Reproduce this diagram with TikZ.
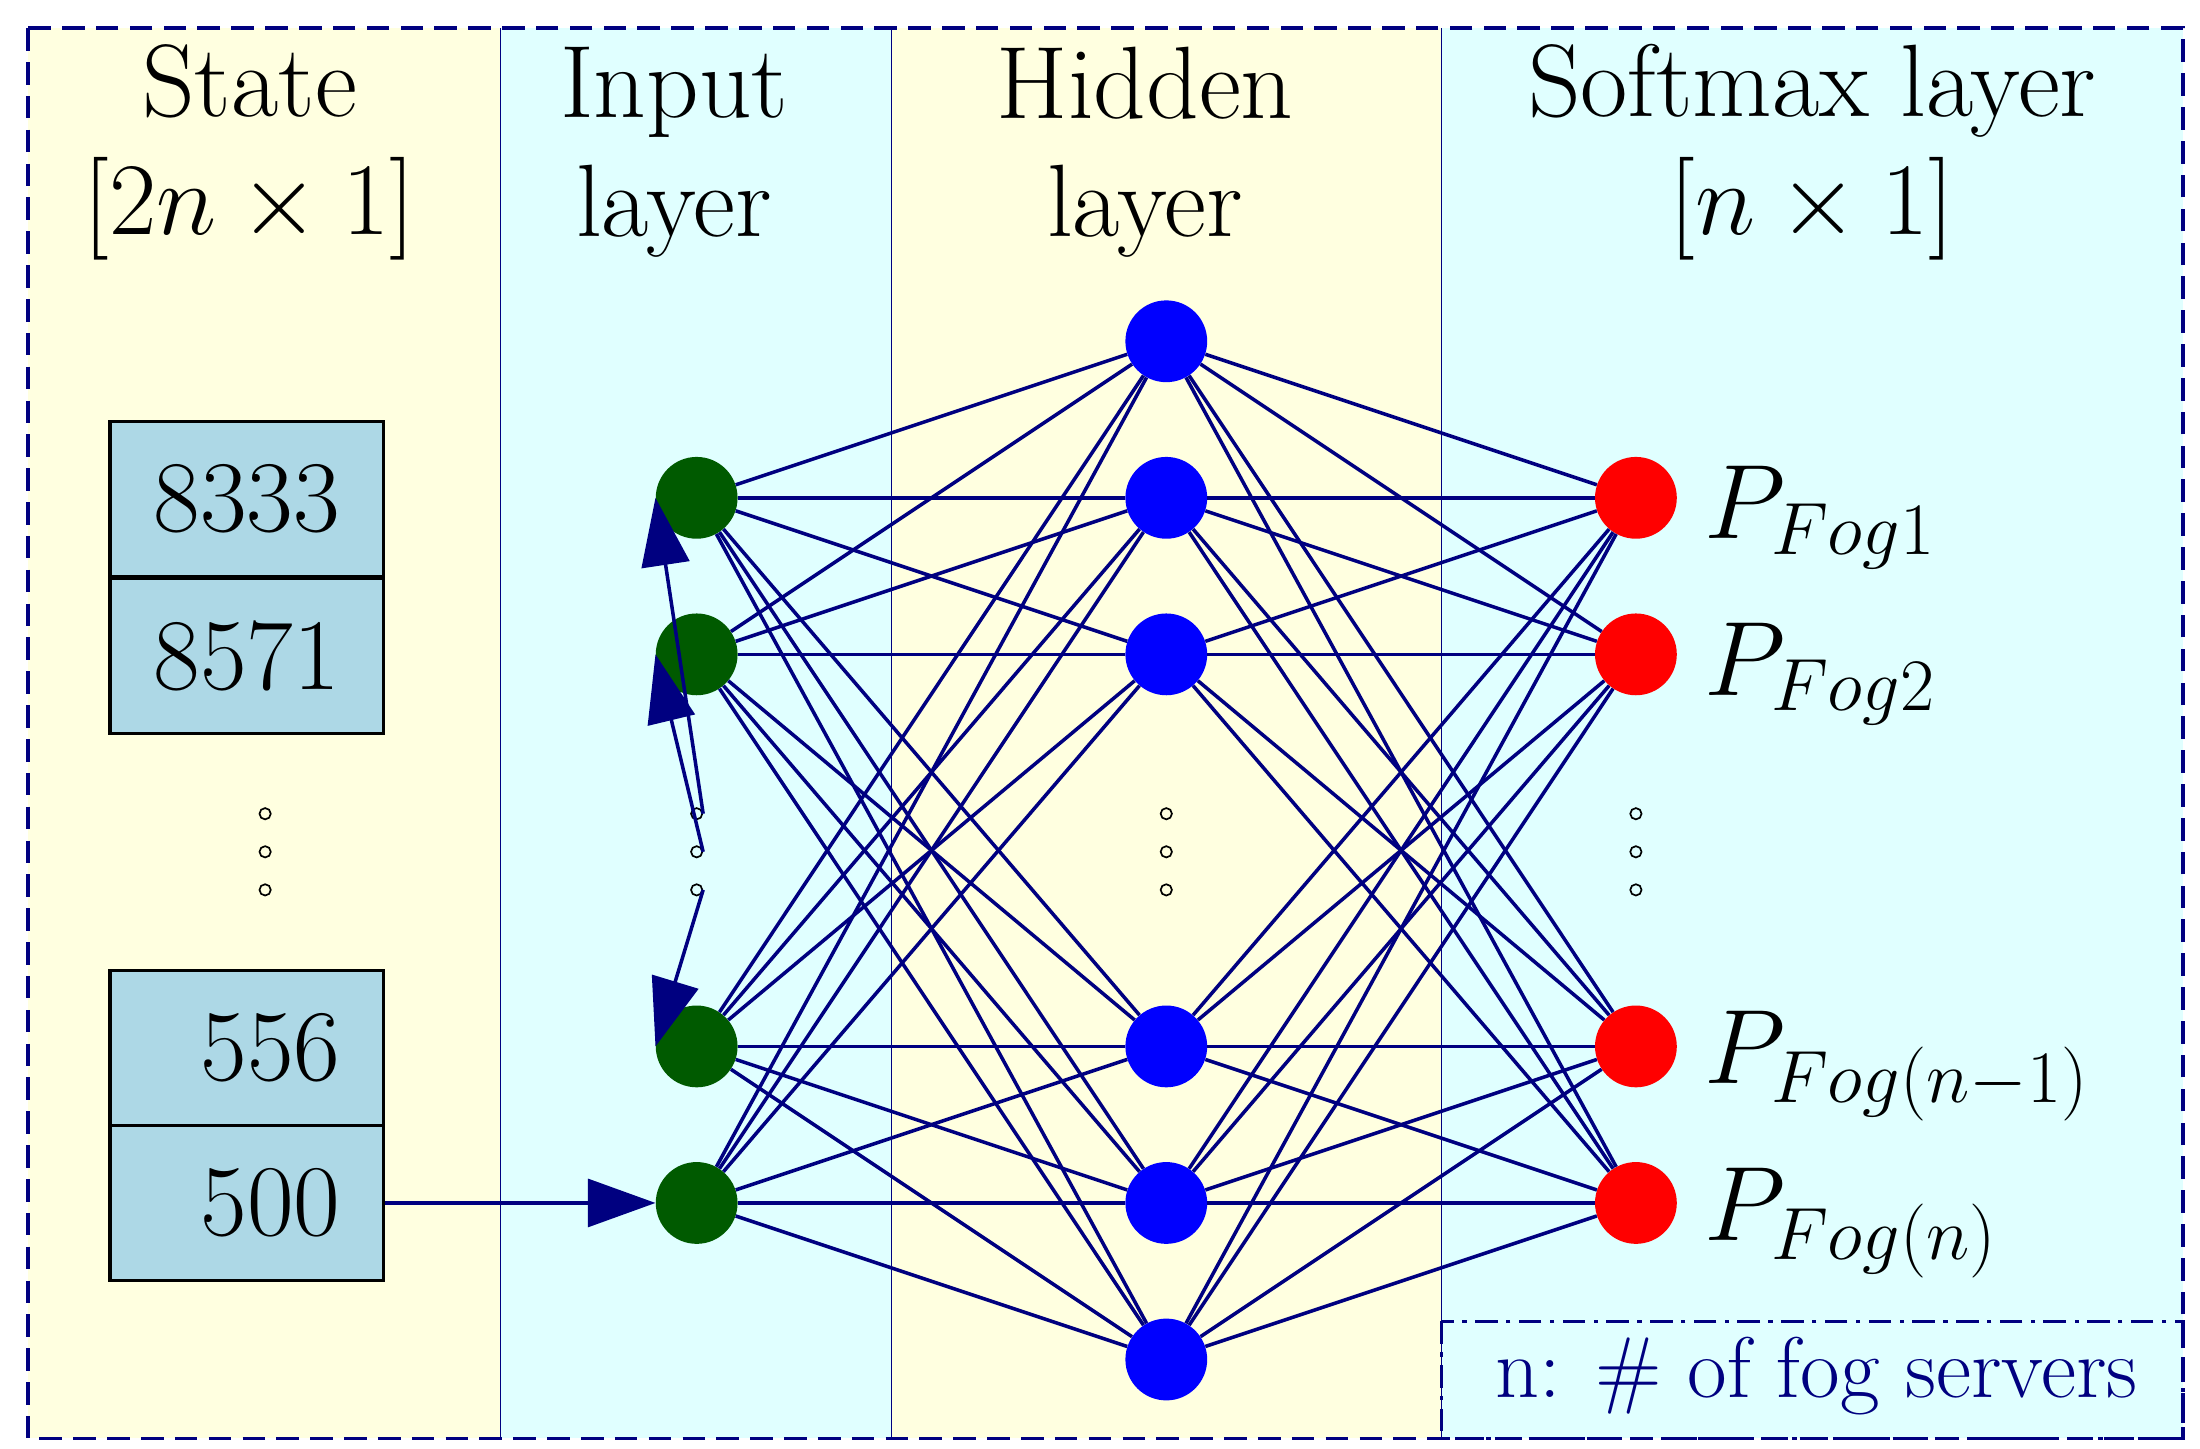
\RequirePackage{fix-cm}
\documentclass[tikz,border=0pt]{standalone}
\usetikzlibrary{arrows.meta}
\definecolor{ly}{RGB}{255,255,224}
\definecolor{lc}{RGB}{224,255,255}
\definecolor{lb}{RGB}{173,216,230}
\definecolor{nv}{RGB}{0,0,128}
\definecolor{dg}{RGB}{0,90,0}
\begin{document}
\begin{tikzpicture}[x=1pt,y=-1pt,
  big/.style={font=\fontsize{73}{84}\selectfont, align=center},
  neu/.style={circle, minimum size=58pt, inner sep=0pt},
  inp/.style={neu, fill=dg}, hid/.style={neu, fill=blue}, outp/.style={neu, fill=red},
  box/.style={draw, line width=2.5pt, fill=lb, minimum width=194pt, minimum height=110pt, font=\fontsize{72}{76}\selectfont},
  edge/.style={nv, line width=2.5pt},
  dot/.style={circle, draw, line width=1.2pt, minimum size=8pt, inner sep=0pt},
  lab/.style={anchor=west, font=\fontsize{75}{78}\selectfont}]
\useasboundingbox (0,0) rectangle (1560,1027);
\fill[ly] (20,20) rectangle (355,1020);
\fill[lc] (355,20) rectangle (632,1020);
\fill[ly] (632,20) rectangle (1022,1020);
\fill[lc] (1022,20) rectangle (1548,1020);
\foreach \x in {355,632,1022} \draw[nv, line width=1pt] (\x,20) -- (\x,1020);
\draw[nv, line width=2.5pt, dashed, dash pattern=on 16pt off 8pt] (20,20) rectangle (1548,1020);
\node[big] (t1) at (177,108) {State\\$[2n\times 1]$};
\node[big] (t2) at (478,108) {Input\\layer};
\node[big] (t3) at (812,108) {Hidden\\layer};
\node[big] (t4) at (1285,108) {Softmax layer\\$[n\times 1]$};
\node[box] (b1) at (175,354) {8333};
\node[box] (b2) at (175,465) {8571};
\node[box] (b3) at (175,743) {\ \,556};
\node[box] (b4) at (175,853) {\ \,500};
\foreach \x/\n in {188/a,494/b,827/c,1160/d}
  \foreach \y [count=\k] in {577,604,631} \node[dot] (\n\k) at (\x,\y) {};
\foreach \y [count=\i] in {353,464,742,853} \node[inp] (i\i) at (494,\y) {};
\foreach \y [count=\i] in {242,353,464,742,853,964} \node[hid] (h\i) at (827,\y) {};
\foreach \y [count=\i] in {353,464,742,853} \node[outp] (o\i) at (1160,\y) {};
\foreach \i in {1,...,4} \draw[edge, -{Triangle[length=48pt,width=34pt]}] (b\i.east) -- (i\i.west);
\foreach \i in {1,...,4} \foreach \j in {1,...,6} \draw[edge] (i\i) -- (h\j);
\foreach \j in {1,...,6} \foreach \k in {1,...,4} \draw[edge] (h\j) -- (o\k);
\node[lab] (p1) at (1205,367) {$P_{Fog1}$};
\node[lab] (p2) at (1205,478) {$P_{Fog2}$};
\node[lab] (p3) at (1205,756) {$P_{Fog(n-1)}$};
\node[lab] (p4) at (1205,867) {$P_{Fog(n)}$};
\draw[nv, line width=2.5pt, dash pattern=on 16pt off 6pt on 3pt off 6pt] (1022,937) rectangle (1548,1020);
\node[font=\fontsize{61}{64}\selectfont, text=nv] (lg) at (1288,976) {n: \# of fog servers};
\end{tikzpicture}
\end{document}
